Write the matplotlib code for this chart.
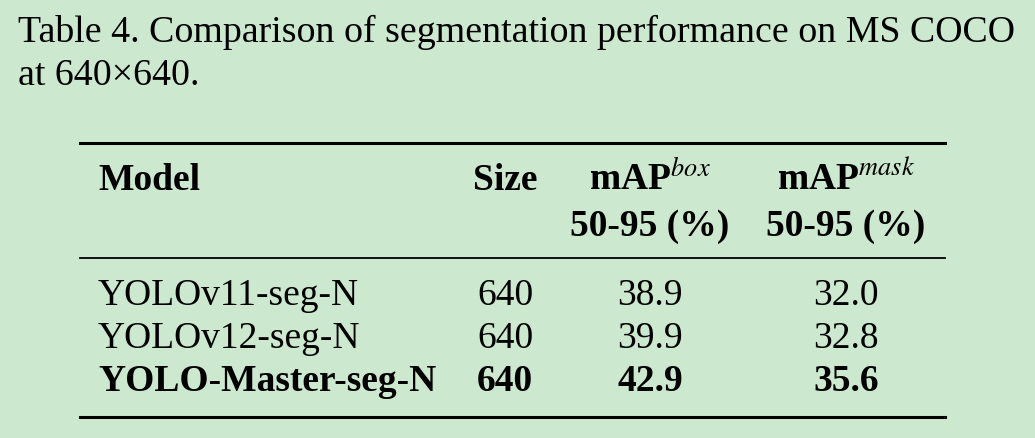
import matplotlib
matplotlib.use("Agg")
import matplotlib.pyplot as plt
from matplotlib.lines import Line2D

plt.rcParams['font.family'] = ['Liberation Serif', 'DejaVu Serif']
plt.rcParams['mathtext.fontset'] = 'stix'

title1 = "Table 4. Comparison of segmentation performance on MS COCO"
title2 = "at 640×640."
headers1 = ["Model", "Size", r"mAP$^{box}$", r"mAP$^{mask}$"]
headers2 = ["", "", "50-95 (%)", "50-95 (%)"]
models = ["YOLOv11-seg-N", "YOLOv12-seg-N", "YOLO-Master-seg-N"]
sizes = ["640", "640", "640"]
map_box = ["38.9", "39.9", "42.9"]
map_mask = ["32.0", "32.8", "35.6"]
bold_row = [False, False, True]

W, H = 1035, 438
fig = plt.figure(figsize=(W/100, H/100), dpi=100)
fig.patch.set_facecolor('#cce8cf')

def T(x, y, s, ha='left', bold=False, fs=27):
    fig.text(x/W, 1-y/H, s, ha=ha, va='baseline', fontsize=fs,
             fontweight='bold' if bold else 'normal', color='black')

def rule(y, lw):
    fig.add_artist(Line2D([80/W, 945/W], [1-y/H, 1-y/H], color='black', lw=lw))

T(18, 42, title1, fs=27.3)
T(18, 85, title2, fs=27.3)
rule(143, 2.2)
cols = [(98, 'left'), (505, 'center'), (650, 'center'), (846, 'center')]
for (x, ha), h in zip(cols, headers1):
    T(x, 190, h, ha=ha, bold=True)
for (x, ha), h in zip(cols, headers2):
    if h:
        T(x, 236, h, ha=ha, bold=True)
rule(258, 1.3)
ys = [305, 348, 391]
for i in range(len(models)):
    vals = [models[i], sizes[i], map_box[i], map_mask[i]]
    for (x, ha), v in zip(cols, vals):
        T(x, ys[i], v, ha=ha, bold=bold_row[i])
rule(417, 2.2)
fig.savefig("out.png", dpi=100, facecolor=fig.get_facecolor())
